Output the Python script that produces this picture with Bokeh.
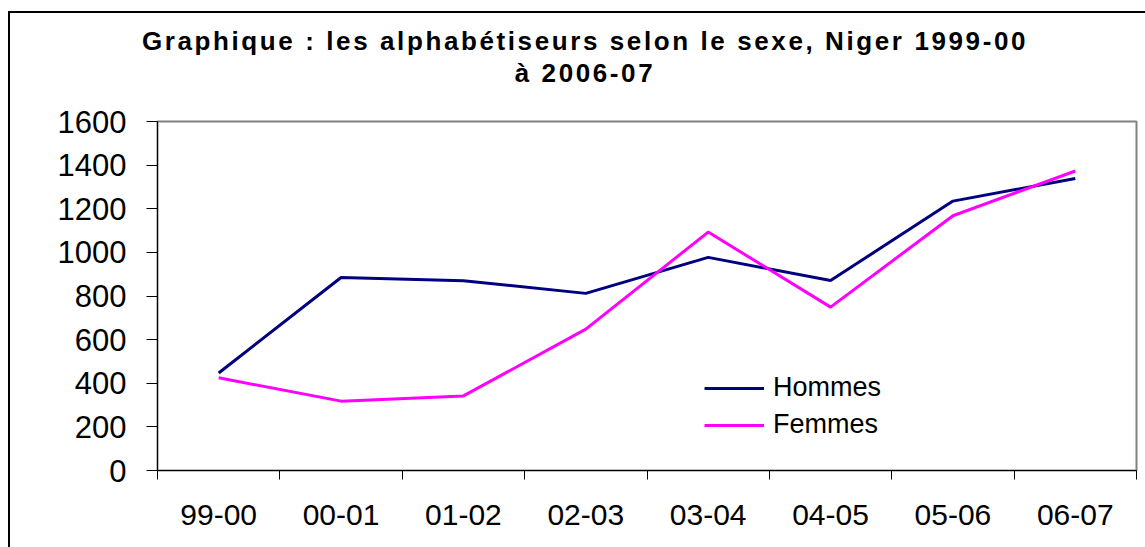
import numpy as np
from bokeh.plotting import figure
from bokeh.models import FixedTicker, Legend, LegendItem, Range1d, Div
from bokeh.layouts import column
from bokeh.embed import file_html
from bokeh.resources import INLINE

categories = ["99-00", "00-01", "01-02", "02-03", "03-04", "04-05", "05-06", "06-07"]
hommes = [447, 885, 870, 812, 977, 871, 1235, 1339]
femmes = [425, 318, 342, 648, 1093, 749, 1168, 1373]
y_ticks = [0, 200, 400, 600, 800, 1000, 1200, 1400, 1600]
title_line1 = "Graphique : les alphabétiseurs selon le sexe, Niger 1999-00"
title_line2 = "à 2006-07"

FONT = "Liberation Sans"
x = np.arange(len(categories)) + 0.5

# title block
title_html = (
    '<div style="width:1135px; box-sizing:border-box; padding-top:12px; padding-left:15px; '
    'text-align:center; font-family:\'Liberation Sans\'; font-weight:bold; font-size:26px; '
    'line-height:32px; letter-spacing:2.6px; color:black;">'
    + title_line1 + "<br>" + title_line2 + "</div>"
)
div = Div(text=title_html, width=1135, height=88, margin=0)

p = figure(width=1135, height=446, output_backend="svg", toolbar_location=None,
           x_range=Range1d(0, len(categories)), y_range=Range1d(0, 1600),
           min_border_left=147, min_border_right=9, min_border_top=20, min_border_bottom=77,
           margin=0)
p.background_fill_color = "white"
p.border_fill_color = "white"
p.outline_line_color = "#808080"
p.outline_line_width = 2
p.xgrid.visible = False
p.ygrid.visible = False

# x axis
xa = p.xaxis[0]
xa.ticker = FixedTicker(ticks=list(x), minor_ticks=list(range(len(categories) + 1)))
xa.major_label_overrides = {float(v): c for v, c in zip(x, categories)}
xa.major_tick_out = 0
xa.major_tick_in = 0
xa.minor_tick_out = 9
xa.minor_tick_in = 0
xa.minor_tick_line_color = "black"
xa.axis_line_color = "black"
xa.major_label_text_font = FONT
xa.major_label_text_font_size = "30px"
xa.major_label_text_color = "black"
xa.major_label_standoff = 25

# y axis
ya = p.yaxis[0]
ya.ticker = FixedTicker(ticks=y_ticks)
ya.major_tick_out = 11
ya.major_tick_in = 0
ya.minor_tick_out = 0
ya.minor_tick_in = 0
ya.axis_line_color = "black"
ya.major_tick_line_color = "black"
ya.major_label_text_font = FONT
ya.major_label_text_font_size = "31px"
ya.major_label_text_color = "black"
ya.major_label_standoff = 20

r1 = p.line(x, hommes, line_color="#000080", line_width=3)
r2 = p.line(x, femmes, line_color="#FF00FF", line_width=3)

legend = Legend(items=[LegendItem(label="Hommes", renderers=[r1]),
                       LegendItem(label="Femmes", renderers=[r2])],
                location=(547, 30), glyph_width=60, glyph_height=24, label_height=24,
                label_standoff=9, spacing=6, padding=0, margin=0,
                border_line_color=None, background_fill_alpha=0,
                label_text_font=FONT, label_text_font_size="27px", label_text_color="black")
p.add_layout(legend, "center")

layout = column(div, p, spacing=0)
layout.styles = {"margin-top": "11px", "margin-left": "8px",
                 "border-top": "2px solid black", "border-left": "2px solid black",
                 "background-color": "white"}

open("out.html", "w").write(file_html(layout, INLINE))
